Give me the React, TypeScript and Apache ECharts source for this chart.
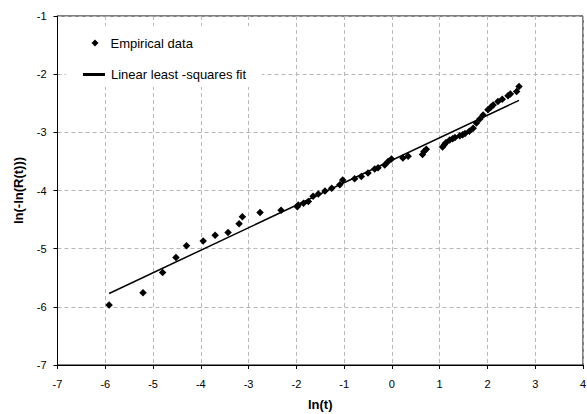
import React, { useEffect, useRef } from "react";
import * as echarts from "echarts";

const lnT = [
  -5.92, -5.21, -4.8, -4.52, -4.3, -3.95, -3.7, -3.43, -3.2, -3.13, -2.76, -2.32,
  -1.98, -1.96, -1.85, -1.75, -1.65, -1.54, -1.4, -1.26, -1.09, -1.03, -0.78, -0.64,
  -0.5, -0.36, -0.29, -0.15, -0.08, -0.01, 0.23, 0.34, 0.64, 0.67, 0.72, 1.06, 1.1,
  1.13, 1.21, 1.27, 1.32, 1.42, 1.48, 1.53, 1.62, 1.7, 1.77, 1.84, 1.91, 2.01, 2.07,
  2.12, 2.22, 2.31, 2.43, 2.48, 2.61, 2.66,
];
const lnLnR = [
  -5.97, -5.76, -5.41, -5.15, -4.95, -4.87, -4.77, -4.72, -4.57, -4.45, -4.38, -4.34,
  -4.28, -4.25, -4.22, -4.19, -4.1, -4.06, -4.01, -3.96, -3.9, -3.82, -3.8, -3.76,
  -3.7, -3.63, -3.61, -3.56, -3.5, -3.46, -3.44, -3.41, -3.38, -3.33, -3.29, -3.25,
  -3.21, -3.18, -3.13, -3.11, -3.09, -3.06, -3.04, -3.02, -2.98, -2.93, -2.84, -2.77,
  -2.7, -2.61, -2.57, -2.53, -2.47, -2.43, -2.37, -2.34, -2.3, -2.21,
];
const fitX = [-5.92, 2.66];
const fitY = [-5.77, -2.45];

const SCATTER_NAME = "Empirical data";
const FIT_NAME = "Linear least -squares fit";

export default function App() {
  const ref = useRef<HTMLDivElement>(null);
  useEffect(() => {
    document.body.style.margin = "0";
    const chart = echarts.init(ref.current!, undefined, { renderer: "svg" });
    const font = "'Liberation Sans', Arial, sans-serif";
    const split = {
      show: true,
      lineStyle: { color: "#b8b8b8", type: [4, 3] as any, width: 1 },
    };
    chart.setOption({
      animation: false,
      backgroundColor: "#ffffff",
      textStyle: { fontFamily: font },
      grid: {
        left: 57.5, right: 4, top: 16, bottom: 49,
        outerBoundsMode: "none",
        containLabel: false,
        show: true, borderColor: "#000", borderWidth: 1, backgroundColor: "transparent",
      },
      xAxis: {
        type: "value",
        min: -7,
        max: 4,
        interval: 1,
        name: "ln(t)",
        nameLocation: "middle",
        nameGap: 33,
        nameTextStyle: { fontFamily: font, fontWeight: "bold", fontSize: 13, color: "#000" },
        axisLine: { show: true, onZero: false, lineStyle: { color: "#000", width: 1 } },
        axisTick: { show: true, length: 4, lineStyle: { color: "#000" } },
        axisLabel: { fontFamily: font, fontSize: 11, color: "#000", margin: 13 },
        splitLine: split,
      },
      yAxis: {
        type: "value",
        min: -7,
        max: -1,
        interval: 1,
        name: "ln(-ln(R(t)))",
        nameLocation: "middle",
        nameGap: 33,
        nameRotate: 90,
        nameTextStyle: { fontFamily: font, fontWeight: "bold", fontSize: 13, color: "#000" },
        axisLine: { show: true, onZero: false, lineStyle: { color: "#000", width: 1 } },
        axisTick: { show: true, length: 4, lineStyle: { color: "#000" } },
        axisLabel: { fontFamily: font, fontSize: 11, color: "#000", margin: 11 },
        splitLine: split,
      },
      graphic: [
        {
          type: "rect",
          z: 1,
          shape: { x: 66, y: 26, width: 196, height: 61 },
          style: { fill: "#ffffff" },
        },
      ],
      legend: [
        {
          data: [{ name: SCATTER_NAME, icon: "diamond" }],
          left: 91.5,
          top: 36.5,
          padding: 0,
          itemWidth: 7,
          itemHeight: 7,
          z: 5,
          selectedMode: false,
          textStyle: { fontFamily: font, fontSize: 13, color: "#000", padding: [0, 0, 0, 7] },
        },
        {
          data: [{ name: FIT_NAME, icon: "rect" }],
          left: 83,
          top: 68,
          padding: 0,
          itemWidth: 22,
          itemHeight: 3,
          z: 5,
          selectedMode: false,
          textStyle: { fontFamily: font, fontSize: 13, color: "#000", padding: [0, 0, 0, 1] },
        },
      ],
      series: [
        {
          name: SCATTER_NAME,
          type: "scatter",
          symbol: "diamond",
          symbolSize: 7.5,
          itemStyle: { color: "#000", opacity: 1 },
          data: lnT.map((x, i) => [x, lnLnR[i]]),
          z: 3,
        },
        {
          name: FIT_NAME,
          type: "line",
          symbol: "none",
          lineStyle: { color: "#000", width: 1.5 },
          itemStyle: { color: "#000" },
          data: fitX.map((x, i) => [x, fitY[i]]),
          z: 4,
        },
      ],
    });
    return () => chart.dispose();
  }, []);
  return <div ref={ref} style={{ width: 587, height: 414 }} />;
}
